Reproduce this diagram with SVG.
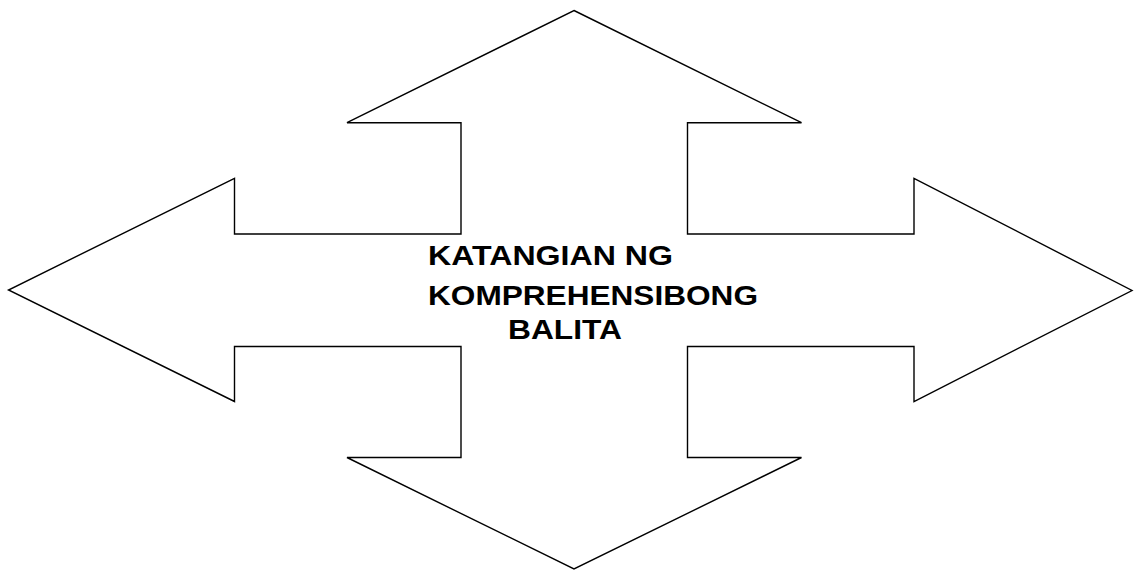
<svg xmlns="http://www.w3.org/2000/svg" width="1134" height="570" viewBox="0 0 1134 570">
<style>
.shape{fill:#ffffff;stroke:#000000;stroke-width:1.4;stroke-linejoin:miter}
.lbl{font-family:"Liberation Sans",Arial,sans-serif;font-weight:bold;font-size:28px;fill:#000000}
</style>
<rect x="0" y="0" width="1134" height="570" fill="#ffffff"/>
<g id="quad-arrow">
<polygon class="shape" points="574,10.5 801.5,122.7 687.5,122.7 687.5,234 914,234 914,178.3 1132,290.5 914,401.5 914,346.5 687.5,346.5 687.5,457.5 801.5,457.5 574,569 347,457.5 461,457.5 461,346.5 234.5,346.5 234.5,401.5 8.5,290 234.5,178.3 234.5,234 461,234 461,122.7 347,122.7"/>
</g>
<g id="label">
<text class="lbl" x="428" y="265" textLength="245" lengthAdjust="spacingAndGlyphs">KATANGIAN NG</text>
<text class="lbl" x="428" y="305" textLength="330" lengthAdjust="spacingAndGlyphs">KOMPREHENSIBONG</text>
<text class="lbl" x="508" y="338.5" textLength="114" lengthAdjust="spacingAndGlyphs">BALITA</text>
</g>
<g id="connectors"></g>
</svg>
